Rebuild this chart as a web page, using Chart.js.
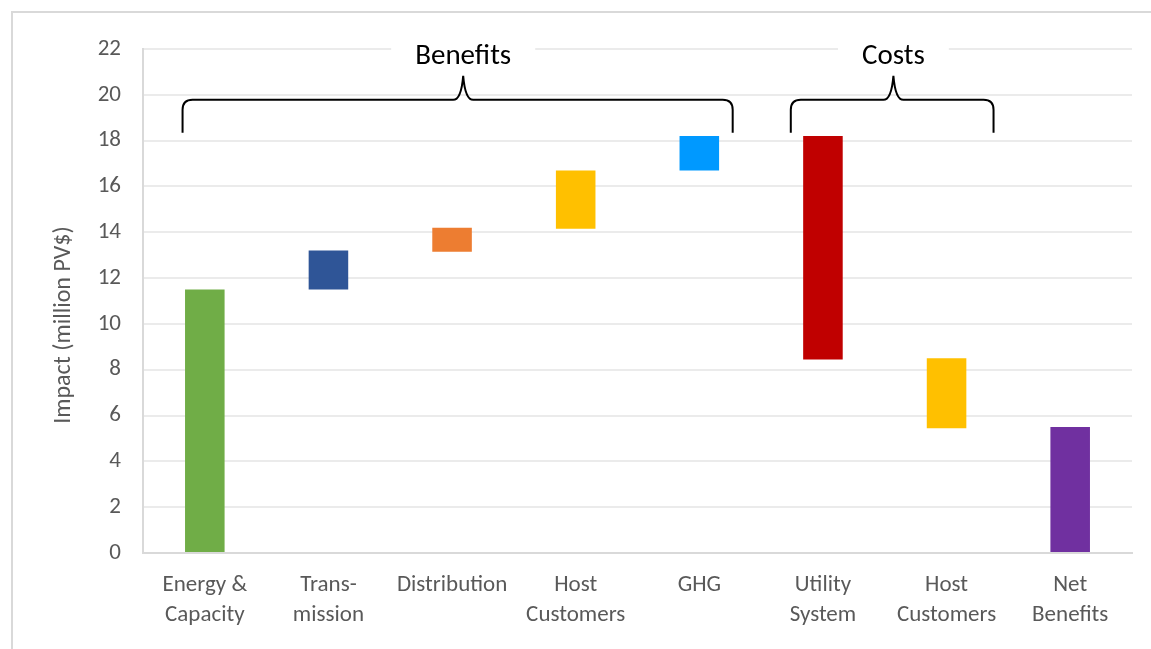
<!DOCTYPE html>
<html lang="en">
<head>
  <meta charset="UTF-8" />
  <title>Benefits and Costs</title>
  <script src="https://cdn.jsdelivr.net/npm/chart.js"></script>
  <style>
    html, body { margin: 0; padding: 0; background: #fff; }
    .chart-wrapper { width: 1151px; height: 649px; position: relative; }
  </style>
</head>
<body>
<div class="chart-wrapper">
  <canvas id="chart"></canvas>
</div>
<script>
  // categories (multi-line tick labels)
  const categories = [
    ['Energy &', 'Capacity'],
    ['Trans-', 'mission'],
    ['Distribution'],
    ['Host', 'Customers'],
    ['GHG'],
    ['Utility', 'System'],
    ['Host', 'Customers'],
    ['Net', 'Benefits']
  ];
  // floating bar ranges, million PV$
  const barStart = [0, 11.5, 13.15, 14.15, 16.7, 8.45, 5.45, 0];
  const barEnd   = [11.5, 13.2, 14.2, 16.7, 18.2, 18.2, 8.5, 5.5];
  const barColors = ['#70AD47', '#2F5597', '#ED7D31', '#FFC000', '#0099FF', '#C00000', '#FFC000', '#7030A0'];

  const yTicks = [0, 2, 4, 6, 8, 10, 12, 14, 16, 18, 20, 22];
  const yTitle = 'Impact (million PV$)';

  // group braces above the bars (x in category units, y in axis units)
  const groupNames = ['Benefits', 'Costs'];
  const groupFrom = [-0.18, 4.74];
  const groupTo = [4.27, 6.38];
  const groupMid = [2.09, 5.57];

  const FONT = 'Carlito, Calibri, Lato, sans-serif';

  const braces = {
    id: 'braces',
    beforeDraw(chart) {
      const c = chart.ctx;
      c.save();
      c.strokeStyle = '#d9d9d9';
      c.lineWidth = 2;
      c.beginPath();
      c.moveTo(12, 700);
      c.lineTo(12, 12);
      c.lineTo(1200, 12);
      c.stroke();
      // y axis title, centred like the original
      c.fillStyle = '#595959';
      c.font = '24px ' + FONT;
      c.textAlign = 'center';
      c.textBaseline = 'middle';
      c.translate(64, 325);
      c.rotate(-Math.PI / 2);
      c.fillText(yTitle, 0, 0);
      c.restore();
    },
    afterDatasetsDraw(chart) {
      const c = chart.ctx, x = chart.scales.x, y = chart.scales.y;
      const x0 = x.getPixelForValue(0), x1 = x.getPixelForValue(1);
      const px = u => x0 + u * (x1 - x0);
      const yLeg = y.getPixelForValue(18.34);
      const yTop = y.getPixelForValue(19.78);
      const yPeak = y.getPixelForValue(20.83);
      const yText = y.getPixelForValue(21.66);
      c.save();
      c.font = '29px ' + FONT;
      c.textAlign = 'center';
      c.textBaseline = 'middle';
      groupNames.forEach((name, i) => {
        const a = px(groupFrom[i]), b = px(groupTo[i]), m = px(groupMid[i]);
        const w = c.measureText(name).width;
        c.fillStyle = '#fff';
        c.fillRect(m - w / 2 - 24, yText - 16, w + 48, 30);
        c.fillStyle = '#000';
        c.fillText(name, m, yText);

        c.strokeStyle = '#000';
        c.lineWidth = 2;
        c.beginPath();
        c.moveTo(a, yLeg);
        c.lineTo(a, yTop + 10);
        c.quadraticCurveTo(a, yTop, a + 10, yTop);
        c.lineTo(m - 10, yTop);
        c.quadraticCurveTo(m - 2, yTop, m, yPeak);
        c.quadraticCurveTo(m + 2, yTop, m + 10, yTop);
        c.lineTo(b - 10, yTop);
        c.quadraticCurveTo(b, yTop, b, yTop + 10);
        c.lineTo(b, yLeg);
        c.stroke();
      });
      c.restore();
    }
  };

  new Chart(document.getElementById('chart'), {
    type: 'bar',
    data: {
      labels: categories,
      datasets: [{
        data: barStart.map((s, i) => [s, barEnd[i]]),
        backgroundColor: barColors,
        borderWidth: 0,
        barPercentage: 0.32,
        categoryPercentage: 1
      }]
    },
    options: {
      responsive: true,
      maintainAspectRatio: false,
      animation: false,
      layout: { padding: { left: 12, top: 49, right: 19, bottom: 0 } },
      plugins: { legend: { display: false }, tooltip: { enabled: false } },
      scales: {
        x: {
          grid: { display: false, drawTicks: false },
          border: { color: '#d9d9d9', width: 2 },
          ticks: { color: '#595959', font: { family: FONT, size: 23, lineHeight: 1.28 }, padding: 18, maxRotation: 0, autoSkip: false },
          afterFit: s => { s.height = 96; }
        },
        y: {
          min: 0,
          max: 22,
          afterBuildTicks: s => { s.ticks = yTicks.map(v => ({ value: v })); },
          grid: { color: '#ebebeb', lineWidth: 2, drawTicks: false },
          border: { color: '#d9d9d9', width: 2 },
          ticks: { color: '#595959', font: { family: FONT, size: 23 }, padding: 22 },
          afterFit: s => { s.width = 131; }
        }
      }
    },
    plugins: [braces]
  });
</script>
</body>
</html>
